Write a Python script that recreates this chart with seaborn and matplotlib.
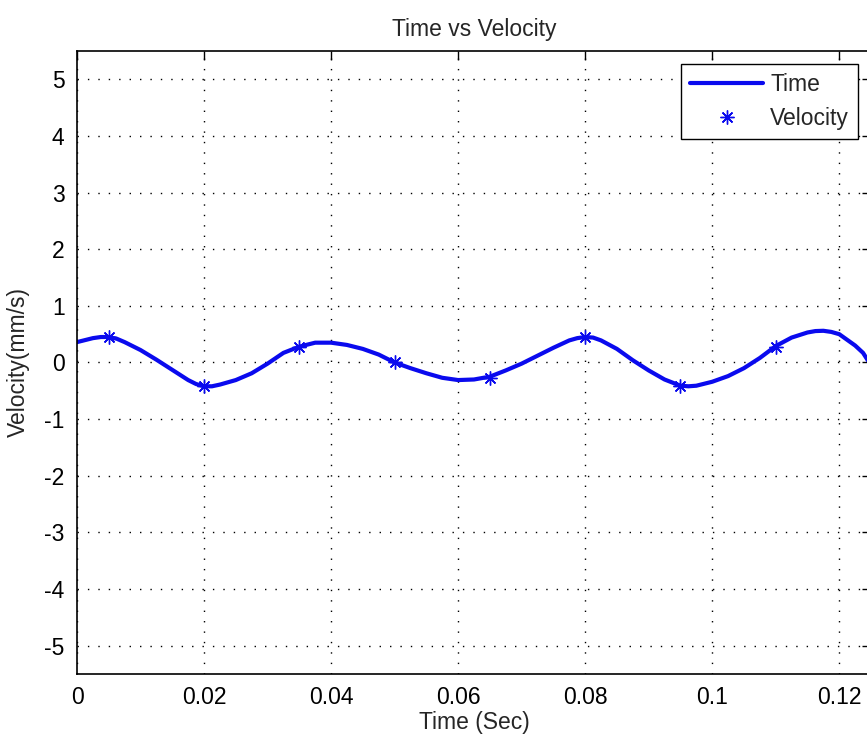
import numpy as np
import pandas as pd
import matplotlib
matplotlib.use("Agg")
import matplotlib.pyplot as plt
from matplotlib.lines import Line2D
import seaborn as sns

# Sampled response (seconds, mm/s)
time_s = [0.0000, 0.0025, 0.00375, 0.0050, 0.00625, 0.0075, 0.0100, 0.0125,
          0.0150, 0.0175, 0.01875, 0.0200, 0.02125, 0.0225, 0.0250, 0.0275,
          0.0300, 0.0325, 0.0350, 0.0375, 0.0400, 0.0425, 0.0450, 0.0475,
          0.0500, 0.0525, 0.0550, 0.0575, 0.0600, 0.0625, 0.0650, 0.0675,
          0.0700, 0.0725, 0.0750, 0.0775, 0.07875, 0.0800, 0.08125, 0.0825,
          0.0850, 0.0875, 0.0900, 0.0925, 0.0950, 0.09625, 0.0975, 0.1000,
          0.1025, 0.1050, 0.1075, 0.1100, 0.1125, 0.1150, 0.11625, 0.1175,
          0.11875, 0.1200, 0.1225, 0.12375, 0.1250]
velocity = [0.36, 0.43, 0.45, 0.45, 0.42, 0.36, 0.22, 0.05,
            -0.13, -0.31, -0.38, -0.42, -0.42, -0.39, -0.31, -0.19,
            -0.02, 0.17, 0.28, 0.35, 0.35, 0.31, 0.24, 0.14,
            0.00, -0.10, -0.19, -0.27, -0.31, -0.30, -0.25, -0.14,
            -0.02, 0.12, 0.26, 0.39, 0.43, 0.45, 0.44, 0.39,
            0.24, 0.04, -0.14, -0.30, -0.41, -0.42, -0.41, -0.34,
            -0.24, -0.10, 0.08, 0.29, 0.44, 0.53, 0.555, 0.56,
            0.54, 0.50, 0.30, 0.17, -0.05]

# Marked samples
marker_time = [0.005, 0.020, 0.035, 0.050, 0.065, 0.080, 0.095, 0.110]
marker_velocity = [0.45, -0.42, 0.28, 0.00, -0.27, 0.45, -0.42, 0.28]

x_ticks = [0, 0.02, 0.04, 0.06, 0.08, 0.10, 0.12]
x_tick_labels = ["0", "0.02", "0.04", "0.06", "0.08", "0.1", "0.12"]
y_ticks = [-5, -4, -3, -2, -1, 0, 1, 2, 3, 4, 5]
y_tick_labels = ["-5", "-4", "-3", "-2", "-1", "0", "1", "2", "3", "4", "5"]

sns.set_style("white")
plt.rcParams["font.family"] = ["Liberation Sans", "DejaVu Sans"]
plt.rcParams["axes.unicode_minus"] = False

FS = 16.5
BLUE = "#0a0aee"

fig = plt.figure(figsize=(8.67, 7.42), dpi=100)
ax = fig.add_axes([77 / 867, 1 - 674 / 742, 794 / 867, 623 / 742])

curve = pd.DataFrame({"t": time_s, "v": velocity})
marks = pd.DataFrame({"t": marker_time, "v": marker_velocity})

sns.lineplot(data=curve, x="t", y="v", ax=ax, color=BLUE, linewidth=3.0,
             sort=False, estimator=None, solid_joinstyle="round",
             solid_capstyle="round")
asterisk = (8, 2, 0)
sns.lineplot(data=marks, x="t", y="v", ax=ax, color=BLUE, linestyle="",
             marker=asterisk, markersize=10, markeredgewidth=1.0,
             markeredgecolor=BLUE, sort=False, estimator=None)

ax.set_xlim(0, 0.125)
ax.set_ylim(-5.5, 5.5)
ax.set_xticks(x_ticks)
ax.set_xticklabels(x_tick_labels)
ax.set_yticks(y_ticks)
ax.set_yticklabels(y_tick_labels)

ax.grid(True, color="black", linestyle=(0, (1, 6.5)), linewidth=1.0)
ax.tick_params(direction="in", length=6.5, width=1.0, top=True, right=True,
               labelsize=FS, colors="black", pad=9)
for s in ax.spines.values():
    s.set_visible(True)
    s.set_color("black")
    s.set_linewidth(1.2)

ax.set_xlabel("Time (Sec)", fontsize=FS, labelpad=1)
ax.set_ylabel("Velocity(mm/s)", fontsize=FS, labelpad=10)
ax.set_title("Time vs Velocity", fontsize=FS, pad=11)

handles = [
    Line2D([], [], color=BLUE, linewidth=3.0),
    Line2D([], [], color=BLUE, linestyle="", marker=asterisk,
           markersize=10, markeredgewidth=1.0),
]
leg = ax.legend(handles, ["Time", "Velocity"], loc="upper right",
                fontsize=FS, frameon=True, fancybox=False, framealpha=1,
                edgecolor="black", handlelength=3.2, handletextpad=0.3,
                borderpad=0.4, labelspacing=0.5, borderaxespad=0.55)
leg.get_frame().set_linewidth(1.0)

fig.savefig("out.png", dpi=100, facecolor="white")
